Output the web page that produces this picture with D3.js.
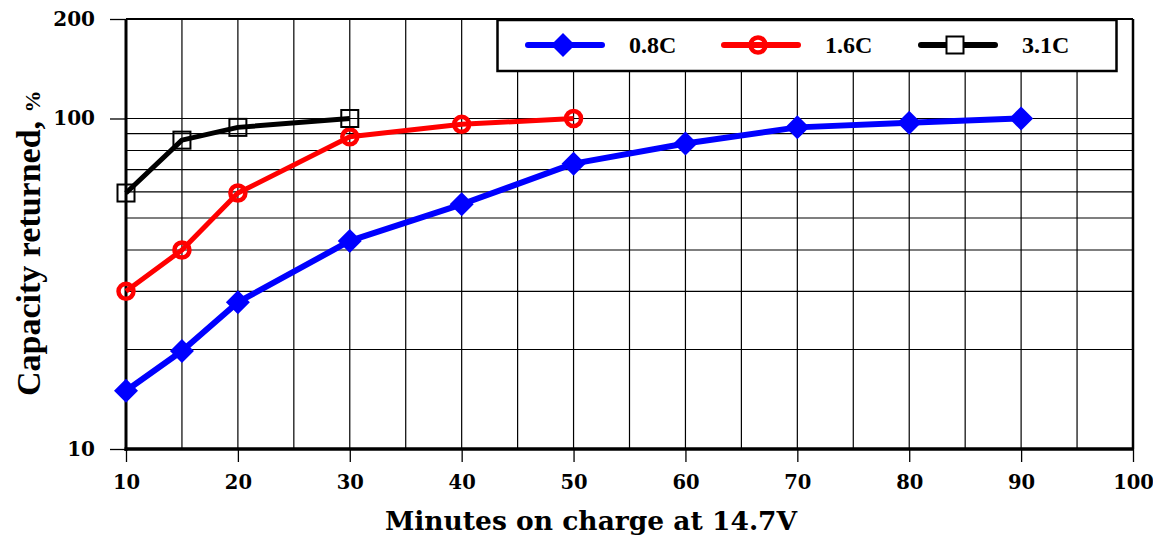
<!DOCTYPE html>
<html>
<head>
<meta charset="utf-8">
<script src="https://cdn.jsdelivr.net/npm/d3@7"></script>
<style>
  body { margin: 0; background: #fff; }
  .tick-label { font-family: "DejaVu Serif", serif; font-weight: bold; }
  .axis-title { font-family: "DejaVu Serif", serif; font-weight: bold; }
  .y-title { font-family: "Liberation Serif", serif; font-weight: bold; }
  .legend-label { font-family: "Liberation Serif", serif; font-weight: bold; }
</style>
</head>
<body>
<div id="svg-div"></div>
<script>
// minutes on charge
var minutes08 = [10, 15, 20, 30, 40, 50, 60, 70, 80, 90];
var minutes16 = [10, 15, 20, 30, 40, 50];
var minutes31 = [10, 15, 20, 30];
// capacity returned, %
var capacity08 = [15, 19.8, 27.8, 42.6, 55, 73, 84, 94, 97, 100];
var capacity16 = [30, 40, 59.5, 88, 96, 100];
var capacity31 = [59.5, 86, 94, 100];

var seriesNames = ["0.8C", "1.6C", "3.1C"];
var xTickValues = [10, 20, 30, 40, 50, 60, 70, 80, 90, 100];
var xGridValues = [15, 20, 25, 30, 35, 40, 45, 50, 55, 60, 65, 70, 75, 80, 85, 90, 95];
var yTickValues = [10, 100, 200];
var yGridValues = [20, 30, 40, 50, 60, 70, 80, 90, 100];

window.onload = () => {
    var W = 1153, H = 538;
    var margin = { top: 19, right: 20, bottom: 89, left: 126 },
        width = W - margin.left - margin.right,
        height = H - margin.top - margin.bottom;

    var x = d3.scaleLinear().domain([10, 100]).range([0, width]);
    var y = d3.scaleLog().domain([10, 200]).range([height, 0]);

    var series = [
        { name: seriesNames[0], xs: minutes08, ys: capacity08, color: "#0000ff", lw: 6, marker: "diamond" },
        { name: seriesNames[1], xs: minutes16, ys: capacity16, color: "#ff0000", lw: 5, marker: "circle" },
        { name: seriesNames[2], xs: minutes31, ys: capacity31, color: "#000000", lw: 5, marker: "square" }
    ];

    var svg = d3.select("#svg-div").append("svg")
        .attr("width", W).attr("height", H);
    var g = svg.append("g")
        .attr("transform", "translate(" + margin.left + "," + margin.top + ")");

    // grid
    g.selectAll("line.vgrid").data(xGridValues).enter().append("line")
        .attr("class", "vgrid")
        .attr("x1", d => x(d)).attr("x2", d => x(d))
        .attr("y1", 0).attr("y2", height)
        .attr("stroke", "#000").attr("stroke-width", 1.2);
    g.selectAll("line.hgrid").data(yGridValues).enter().append("line")
        .attr("class", "hgrid")
        .attr("x1", 0).attr("x2", width)
        .attr("y1", d => y(d)).attr("y2", d => y(d))
        .attr("stroke", "#000").attr("stroke-width", 1.2);

    // axes via d3 axis generators
    var xAxis = g.append("g")
        .attr("transform", "translate(0," + height + ")")
        .call(d3.axisBottom(x).tickValues(xTickValues).tickSize(13).tickPadding(13).tickFormat(d3.format("d")));
    xAxis.select(".domain").remove();
    xAxis.selectAll(".tick line").attr("stroke-width", 1.3);
    xAxis.selectAll("text").attr("class", "tick-label").attr("font-size", 19.5).attr("fill", "#000");

    var yAxis = g.append("g")
        .call(d3.axisLeft(y).tickValues(yTickValues).tickSize(16).tickPadding(15).tickFormat(d3.format("d")));
    yAxis.select(".domain").remove();
    yAxis.selectAll(".tick line").attr("stroke-width", 1.3);
    yAxis.selectAll("text").attr("class", "tick-label").attr("font-size", 20).attr("fill", "#000");

    // frame
    g.append("line").attr("x1", 0).attr("x2", width).attr("y1", 0).attr("y2", 0)
        .attr("stroke", "#000").attr("stroke-width", 2);
    g.append("line").attr("x1", width).attr("x2", width).attr("y1", 0).attr("y2", height)
        .attr("stroke", "#000").attr("stroke-width", 2.5);
    g.append("line").attr("x1", 0).attr("x2", 0).attr("y1", 0).attr("y2", height + 2)
        .attr("stroke", "#000").attr("stroke-width", 3);
    g.append("line").attr("x1", -1.5).attr("x2", width + 1).attr("y1", height).attr("y2", height)
        .attr("stroke", "#000").attr("stroke-width", 3.5);

    function drawMarker(sel, s) {
        if (s.marker == "diamond") {
            sel.append("path")
                .attr("d", "M0,-12L12,0L0,12L-12,0Z")
                .attr("fill", s.color);
        } else if (s.marker == "circle") {
            sel.append("circle").attr("r", 7.5)
                .attr("fill", "none").attr("stroke", s.color).attr("stroke-width", 4.5);
        } else {
            sel.append("rect").attr("x", -8.5).attr("y", -8.5).attr("width", 17).attr("height", 17)
                .attr("fill", "none").attr("stroke", s.color).attr("stroke-width", 2);
        }
    }

    var line = d3.line().x(d => x(d[0])).y(d => y(d[1]));

    series.forEach(s => {
        var pts = s.xs.map((v, i) => [v, s.ys[i]]);
        g.append("path")
            .datum(pts)
            .attr("d", line)
            .attr("fill", "none")
            .attr("stroke", s.color)
            .attr("stroke-width", s.lw)
            .attr("stroke-linejoin", "round");
        g.selectAll("g.m-" + s.marker).data(pts).enter().append("g")
            .attr("class", "m-" + s.marker)
            .attr("transform", d => "translate(" + x(d[0]) + "," + y(d[1]) + ")")
            .each(function () { drawMarker(d3.select(this), s); });
    });

    // legend
    var legend = svg.append("g");
    legend.append("rect")
        .attr("x", 497.5).attr("y", 20).attr("width", 619).attr("height", 51)
        .attr("fill", "#fff").attr("stroke", "#000").attr("stroke-width", 2.5);
    var legendX = [528, 724, 921];
    series.forEach((s, i) => {
        var lg = legend.append("g").attr("transform", "translate(" + legendX[i] + ",45)");
        lg.append("line").attr("x1", 0).attr("x2", 74).attr("y1", 0).attr("y2", 0)
            .attr("stroke", s.color).attr("stroke-width", 6).attr("stroke-linecap", "round");
        var mk = lg.append("g").attr("transform", "translate(" + (i == 0 ? 35 : 34) + ",0)");
        drawMarker(mk, s);
        if (s.marker == "square") mk.select("rect").attr("fill", "#fff");
        lg.append("text")
            .attr("class", "legend-label")
            .attr("x", 101).attr("y", 8)
            .attr("font-size", 24)
            .text(s.name);
    });

    // titles
    svg.append("text")
        .attr("class", "axis-title")
        .attr("x", 591).attr("y", 530)
        .attr("text-anchor", "middle")
        .attr("font-size", 26.5)
        .text("Minutes on charge at 14.7V");

    var yt = svg.append("text")
        .attr("class", "y-title")
        .attr("transform", "translate(40,396) rotate(-90)")
        .attr("font-size", 34);
    yt.append("tspan").text("Capacity returned, ");
    yt.append("tspan").attr("font-size", 22).text("%");
}
</script>
</body>
</html>
